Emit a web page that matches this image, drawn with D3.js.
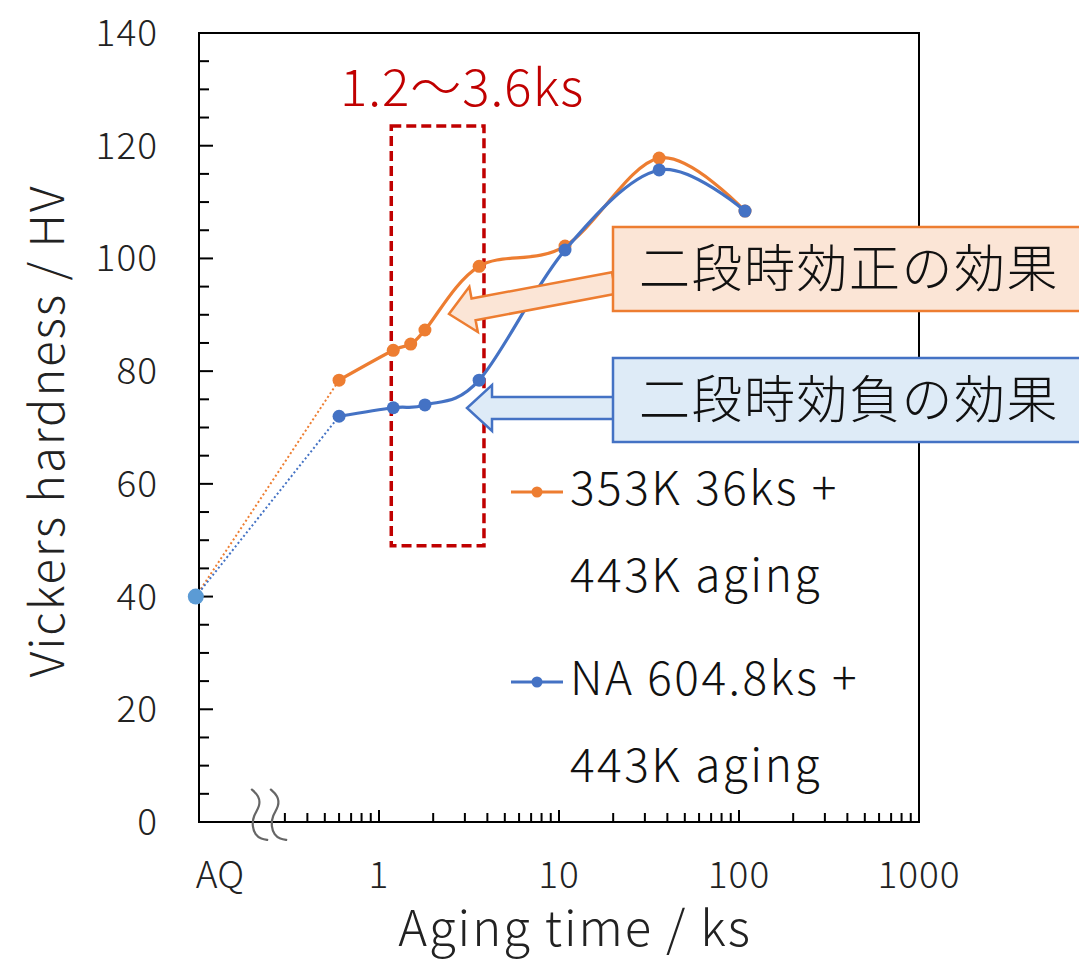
<!DOCTYPE html>
<html>
<head>
<meta charset="utf-8">
<script src="https://cdn.jsdelivr.net/npm/d3@7"></script>
<style>
  body { margin: 0; background: #fff; }
  text { font-family: "Noto Sans CJK JP", "Noto Sans", sans-serif; font-weight: 300; }
</style>
</head>
<body>
<div id="chart"></div>
<script>
//data

var orangeTime = [0.6, 1.2, 1.5, 1.8, 3.6, 10.8, 36, 108]
var orangeHV = [78.4, 83.7, 84.8, 87.3, 98.6, 102.2, 117.8, 108.4]

var blueTime = [0.6, 1.2, 1.8, 3.6, 10.8, 36, 108]
var blueHV = [72.0, 73.5, 74.0, 78.4, 101.5, 115.7, 108.4]

var aqPos = 0.096   // where "AQ" sits on the log axis
var aqHV = 40

var yTicks = [0, 20, 40, 60, 80, 100, 120, 140]
var xTicks = [1, 10, 100, 1000]
var xTickLabels = ["1", "10", "100", "1000"]
var minorX = [0.3,0.4,0.5,0.6,0.7,0.8,0.9,2,3,4,5,6,7,8,9,20,30,40,50,60,70,80,90,200,300,400,500,600,700,800,900]
var breakAt = [0.2, 0.255]

var rangeBox = {t0: 1.17, t1: 3.83, hv0: 49, hv1: 123.5}

var legendNames = [["353K 36ks +", "443K aging"], ["NA 604.8ks +", "443K aging"]]
var noteTexts = ["二段時効正の効果", "二段時効負の効果"]

var orange = "#ED7D31"
var blue = "#4472C4"

//setup SVG

var w = 1079
var h = 960

var svg = d3.select("#chart")
    .append("svg")
    .attr("width", w)
    .attr("height", h)

var x = d3.scaleLog().domain([0.1, 1000]).range([199, 919])
var y = d3.scaleLinear().domain([0, 140]).range([822, 33])

//frame

svg.append("rect")
    .attr("x", x(0.1))
    .attr("y", y(140))
    .attr("width", x(1000) - x(0.1))
    .attr("height", y(0) - y(140))
    .attr("fill", "none")
    .attr("stroke", "black")
    .attr("stroke-width", 2)

//y ticks, every 5 with longer ones every 20
var yMinor = d3.range(5, 140, 5)
svg.selectAll(".ytick")
    .data(yMinor)
    .enter()
    .append("line")
    .attr("x1", x(0.1))
    .attr("x2", function(d){ return x(0.1) + (d % 20 == 0 ? 14 : 10) })
    .attr("y1", function(d){ return y(d) })
    .attr("y2", function(d){ return y(d) })
    .attr("stroke", "black")
    .attr("stroke-width", 2)

svg.selectAll(".ylab")
    .data(yTicks)
    .enter()
    .append("text")
    .attr("x", 158)
    .attr("y", function(d){ return y(d) })
    .attr("dy", "0.35em")
    .attr("text-anchor", "end")
    .attr("font-size", 37)
    .attr("letter-spacing", 1)
    .attr("fill", "#222")
    .text(function(d){ return d })

//x ticks
svg.selectAll(".xminor")
    .data(minorX)
    .enter()
    .append("line")
    .attr("x1", function(d){ return x(d) })
    .attr("x2", function(d){ return x(d) })
    .attr("y1", y(0))
    .attr("y2", y(0) - 9)
    .attr("stroke", "black")
    .attr("stroke-width", 2)

svg.selectAll(".xmajor")
    .data(xTicks)
    .enter()
    .append("line")
    .attr("x1", function(d){ return x(d) })
    .attr("x2", function(d){ return x(d) })
    .attr("y1", y(0))
    .attr("y2", y(0) - 12)
    .attr("stroke", "black")
    .attr("stroke-width", 2)

svg.selectAll(".xlab")
    .data(xTicks)
    .enter()
    .append("text")
    .attr("x", function(d){ return x(d) })
    .attr("y", 888)
    .attr("text-anchor", "middle")
    .attr("font-size", 37)
    .attr("letter-spacing", 1)
    .attr("fill", "#222")
    .text(function(d, i){ return xTickLabels[i] })

svg.append("text")
    .attr("x", x(aqPos))
    .attr("y", 888)
    .attr("font-size", 37)
    .attr("fill", "#222")
    .text("AQ")

//axis break squiggles
var squiggle = d3.line().curve(d3.curveBasis)
breakAt.forEach(function(b){
    var bx = x(b)
    var pts = [[bx-2, y(0)-33], [bx+6, y(0)-26], [bx+7, y(0)-16], [bx, y(0)-6],
               [bx-1, y(0)+4], [bx+2, y(0)+13], [bx+8, y(0)+17], [bx+15, y(0)+18]]
    svg.append("path")
        .attr("d", squiggle(pts))
        .attr("fill", "none")
        .attr("stroke", "#666")
        .attr("stroke-width", 2.2)
})

//axis titles
svg.append("text")
    .attr("transform", "translate(64," + 431 + ") rotate(-90)")
    .attr("text-anchor", "middle")
    .attr("font-size", 47)
    .attr("letter-spacing", 2)
    .attr("fill", "#222")
    .text("Vickers hardness / HV")

svg.append("text")
    .attr("x", 575)
    .attr("y", 946)
    .attr("text-anchor", "middle")
    .attr("font-size", 49)
    .attr("letter-spacing", 2)
    .attr("fill", "#222")
    .text("Aging time / ks")

//red range box and label
svg.append("rect")
    .attr("x", x(rangeBox.t0))
    .attr("y", y(rangeBox.hv1))
    .attr("width", x(rangeBox.t1) - x(rangeBox.t0))
    .attr("height", y(rangeBox.hv0) - y(rangeBox.hv1))
    .attr("fill", "none")
    .attr("stroke", "#C00000")
    .attr("stroke-width", 3.5)
    .attr("stroke-dasharray", "10,5")

svg.append("text")
    .attr("x", 340)
    .attr("y", 106)
    .attr("font-size", 51)
    .attr("letter-spacing", 1)
    .attr("fill", "#C00000")
    .text("1.2～3.6ks")

//dotted lines from AQ
function drawDotted(t, v, color){
    svg.append("line")
        .attr("x1", x(aqPos))
        .attr("y1", y(aqHV))
        .attr("x2", x(t[0]))
        .attr("y2", y(v[0]))
        .attr("stroke", color)
        .attr("stroke-width", 2)
        .attr("stroke-dasharray", "2,2.5")
}
drawDotted(orangeTime, orangeHV, orange)
drawDotted(blueTime, blueHV, blue)

//smoothed series
function drawSeries(t, v, color, cls){
    var pts = t.map(function(d, i){ return [x(d), y(v[i])] })
    var line = d3.line().curve(d3.curveCatmullRom.alpha(0))
    svg.append("path")
        .attr("d", line(pts))
        .attr("fill", "none")
        .attr("stroke", color)
        .attr("stroke-width", 3.2)

    svg.selectAll("." + cls)
        .data(pts)
        .enter()
        .append("circle")
        .attr("class", cls)
        .attr("cx", function(d){ return d[0] })
        .attr("cy", function(d){ return d[1] })
        .attr("r", 6.5)
        .attr("fill", color)
}
drawSeries(orangeTime, orangeHV, orange, "orangePt")
drawSeries(blueTime, blueHV, blue, "bluePt")

svg.append("circle")
    .attr("cx", x(aqPos))
    .attr("cy", y(aqHV))
    .attr("r", 8)
    .attr("fill", "#5B9BD5")

//annotation boxes and arrows
function blockArrow(tail, tip, fill, stroke){
    var dx = tip[0] - tail[0], dy = tip[1] - tail[1]
    var len = Math.sqrt(dx*dx + dy*dy)
    var ang = Math.atan2(dy, dx) * 180 / Math.PI
    var head = 25, hw = 23, sw = 11
    var shape = [[0, -sw], [len - head, -sw], [len - head, -hw], [len, 0],
                 [len - head, hw], [len - head, sw], [0, sw]]
    svg.append("path")
        .attr("d", "M" + shape.join("L") + "Z")
        .attr("transform", "translate(" + tail[0] + "," + tail[1] + ") rotate(" + ang + ")")
        .attr("fill", fill)
        .attr("stroke", stroke)
        .attr("stroke-width", 2.5)
}

blockArrow([614, 283], [449, 314], "#FBE5D6", orange)
blockArrow([614, 408], [467, 408], "#DEEBF7", blue)

var notes = [
    {y: 227, fill: "#FBE5D6", stroke: orange},
    {y: 358, fill: "#DEEBF7", stroke: blue}
]
notes.forEach(function(n, i){
    svg.append("rect")
        .attr("x", 613)
        .attr("y", n.y)
        .attr("width", 500)
        .attr("height", 84)
        .attr("fill", n.fill)
        .attr("stroke", n.stroke)
        .attr("stroke-width", 2.5)
    svg.append("text")
        .attr("x", 849)
        .attr("y", n.y + 42)
        .attr("dy", "0.36em")
        .attr("text-anchor", "middle")
        .attr("font-size", 51)
        .attr("letter-spacing", 1.5)
        .attr("fill", "#111")
        .text(noteTexts[i])
})

//legend
var legendY = [492, 682]
var legendColors = [orange, blue]
legendY.forEach(function(ly, i){
    svg.append("line")
        .attr("x1", 511)
        .attr("x2", 563)
        .attr("y1", ly)
        .attr("y2", ly)
        .attr("stroke", legendColors[i])
        .attr("stroke-width", 3)
    svg.append("circle")
        .attr("cx", 537)
        .attr("cy", ly)
        .attr("r", 5.5)
        .attr("fill", legendColors[i])
    svg.append("text")
        .attr("x", 570)
        .attr("y", ly + 13)
        .attr("font-size", 46)
        .attr("letter-spacing", 2.5)
        .attr("fill", "#111")
        .text(legendNames[i][0])
    svg.append("text")
        .attr("x", 570)
        .attr("y", ly + 100)
        .attr("font-size", 46)
        .attr("letter-spacing", 2.5)
        .attr("fill", "#111")
        .text(legendNames[i][1])
})
</script>
</body>
</html>
